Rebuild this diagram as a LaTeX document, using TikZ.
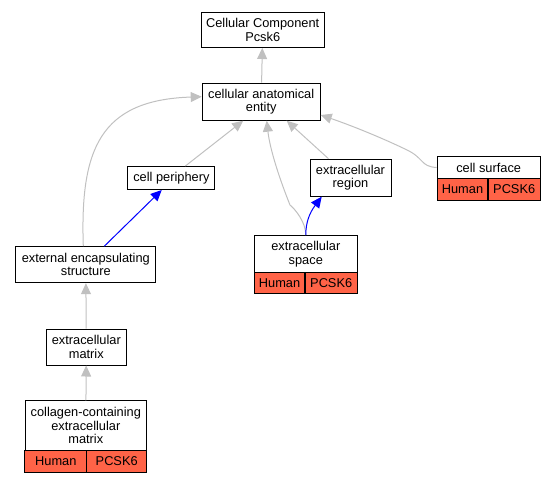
\documentclass[tikz,border=0pt]{standalone}
\usepackage{fontspec}
\setmainfont{Liberation Sans}
\usetikzlibrary{arrows.meta}
\definecolor{edgegray}{HTML}{C0C0C0}
\definecolor{cellred}{HTML}{FF6347}
\tikzset{
  term/.style={draw, line width=1pt, fill=white, align=center, inner sep=0pt,
    font=\fontsize{12.8}{13.4}\selectfont},
  taxon/.style={term, fill=cellred},
  isa/.style={draw=edgegray, line width=1pt, -{Triangle[length=11pt,width=10pt]}},
  partof/.style={draw=blue, line width=1pt, -{Triangle[length=11pt,width=10pt]}},
}
\begin{document}
\begin{tikzpicture}[x=1pt,y=-1pt]
\useasboundingbox (0,0) rectangle (555,483);
\node[term, minimum width=123, minimum height=35] (cc) at (262.7,30) {Cellular Component\\Pcsk6};
\node[term, minimum width=118, minimum height=37] (cae) at (261.2,101.7) {cellular anatomical\\entity};
\node[term, minimum width=87, minimum height=23] (cp) at (171.4,178) {cell periphery};
\node[term, minimum width=140, minimum height=36] (ees) at (85.8,264.7) {external encapsulating\\structure};
\node[term, minimum width=80, minimum height=36] (em) at (86.3,347) {extracellular\\matrix};
\node[term, minimum width=121, minimum height=50] (ccem) at (85.8,425.8) {collagen-containing\\extracellular\\matrix};
\node[taxon, minimum width=61.7, minimum height=21.6] (ccemh) at (55.8,461.5) {Human};
\node[taxon, minimum width=60, minimum height=21.6] (ccemg) at (116.7,461.5) {PCSK6};
\node[term, minimum width=81, minimum height=37] (er) at (350.5,177.7) {extracellular\\region};
\node[term, minimum width=103, minimum height=37] (es) at (305.8,254) {extracellular\\space};
\node[taxon, minimum width=50.7, minimum height=21] (esh) at (279.6,282.8) {Human};
\node[taxon, minimum width=52.3, minimum height=21] (esg) at (331.2,282.8) {PCSK6};
\node[term, minimum width=103, minimum height=22.7] (cs) at (488.7,167.5) {cell surface};
\node[taxon, minimum width=50.4, minimum height=21.3] (csh) at (462.5,189.5) {Human};
\node[taxon, minimum width=52.3, minimum height=21.3] (csg) at (514.2,189.5) {PCSK6};
\draw[isa] (cae) -- (cc);
\draw[isa] ([xshift=14pt]cp.north) -- ([xshift=-18pt]cae.south);
\draw[isa] ([xshift=-2.5pt]ees.north) .. controls +(-3.3,-96.7) and +(-102,3.3) .. ([yshift=5pt]cae.west);
\draw[partof] ([xshift=18.5pt]ees.north) -- ([xshift=-9.7pt]cp.south);
\draw[isa] (em) -- (ees);
\draw[isa] (ccem) -- (em);
\draw[isa] ([xshift=-22pt]er.north) -- ([xshift=25.5pt]cae.south);
\draw[isa] (es.north) .. controls +(0,-13) and +(5,4) .. (290,205)
  .. controls (280,180) and (270,150) .. ([xshift=5.5pt]cae.south);
\draw[partof] (es.north) .. controls +(0,-13) and +(-12,16) .. ([xshift=-28.8pt]er.south);
\draw[isa] (cs.west) .. controls +(-17,-1) and +(20,9) .. (405,149)
  .. controls (380,137) and (350,125) .. ([yshift=-13.3pt]cae.east);
\end{tikzpicture}
\end{document}
